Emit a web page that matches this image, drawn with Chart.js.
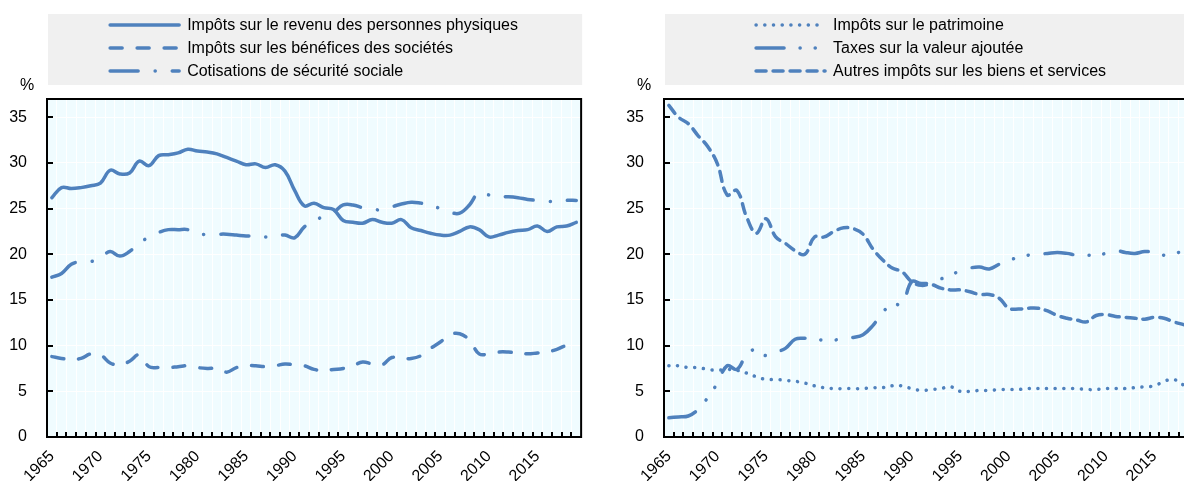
<!DOCTYPE html>
<html>
<head>
<meta charset="utf-8">
<script src="https://cdn.jsdelivr.net/npm/chart.js@4.4.0/dist/chart.umd.min.js"></script>
<style>
html, body { margin: 0; padding: 0; background: #fff; overflow: hidden; width: 1184px; height: 481px; }
.panel { position: absolute; top: 0; width: 600px; height: 481px; }
#p1 { left: 0; }
#p2 { left: 617px; }
</style>
</head>
<body>
<div class="panel" id="p1"><canvas id="c1" width="600" height="481"></canvas></div>
<div class="panel" id="p2"><canvas id="c2" width="600" height="481"></canvas></div>
<script>
var years = ["1965","1966","1967","1968","1969","1970","1971","1972","1973","1974",
             "1975","1976","1977","1978","1979","1980","1981","1982","1983","1984",
             "1985","1986","1987","1988","1989","1990","1991","1992","1993","1994",
             "1995","1996","1997","1998","1999","2000","2001","2002","2003","2004",
             "2005","2006","2007","2008","2009","2010","2011","2012","2013","2014",
             "2015","2016","2017","2018","2019"];

var yTicks = [0, 5, 10, 15, 20, 25, 30, 35];

// left panel
var revenu = [26.2,27.3,27.2,27.3,27.5,27.8,29.2,28.8,28.9,30.2,
              29.7,30.8,30.9,31.1,31.5,31.3,31.2,31.0,30.6,30.2,
              29.8,29.9,29.5,29.8,29.1,27.0,25.3,25.6,25.1,24.9,
              23.7,23.5,23.4,23.8,23.5,23.4,23.8,22.9,22.6,22.3,
              22.1,22.1,22.5,23.0,22.7,21.9,22.1,22.4,22.6,22.7,
              23.1,22.5,23.0,23.1,23.5];
var benefices = [8.8,8.6,8.5,8.6,9.1,9.0,8.1,7.9,8.3,9.0,
                 7.7,7.6,7.6,7.7,7.8,7.6,7.5,7.5,7.1,7.6,
                 7.8,7.8,7.7,7.8,8.0,7.9,7.8,7.4,7.3,7.4,
                 7.5,7.8,8.2,8.0,7.9,8.7,8.6,8.6,8.9,9.7,
                 10.4,11.2,11.3,10.6,9.1,9.1,9.3,9.3,9.2,9.1,
                 9.2,9.3,9.6,10.0,9.9];
var cotisations = [17.5,17.9,18.9,19.2,19.2,19.6,20.3,19.8,20.3,21.2,
                   21.9,22.4,22.7,22.7,22.7,22.2,22.2,22.2,22.2,22.1,
                   22.0,22.0,21.9,22.0,22.1,21.8,23.0,23.6,24.2,24.6,
                   25.4,25.4,25.1,24.9,24.9,25.2,25.5,25.7,25.6,25.4,
                   25.0,24.6,24.5,25.4,26.8,26.5,26.3,26.3,26.2,26.0,
                   25.9,25.8,25.8,25.9,25.9];

// right panel
var patrimoine = [7.8,7.8,7.6,7.6,7.4,7.3,7.4,7.3,7.0,6.6,
                  6.3,6.3,6.2,6.1,5.9,5.6,5.4,5.3,5.3,5.3,
                  5.3,5.4,5.4,5.6,5.6,5.3,5.1,5.2,5.3,5.5,
                  5.0,5.0,5.1,5.1,5.2,5.2,5.2,5.3,5.3,5.3,
                  5.3,5.3,5.3,5.2,5.2,5.3,5.3,5.3,5.4,5.5,
                  5.6,6.1,6.3,5.7,5.5];
var tva = [2.1,2.2,2.3,3.0,4.3,5.9,7.8,7.4,9.0,9.6,
           8.9,9.3,9.7,10.7,10.8,10.7,10.6,10.6,10.8,10.9,
           11.2,12.2,13.6,14.6,14.5,17.0,16.8,16.9,17.3,17.7,
           18.2,18.5,18.6,18.4,18.9,19.4,19.6,19.9,20.0,20.1,
           20.2,20.1,19.9,19.9,19.9,20.1,20.4,20.2,20.1,20.3,
           20.2,19.9,20.1,20.3,20.4];
var autres = [36.3,35.0,34.3,33.0,31.8,29.9,26.5,27.0,24.1,22.3,
              23.9,21.9,21.2,20.4,20.0,21.9,21.9,22.5,22.9,22.8,
              22.2,20.6,19.4,18.5,18.1,17.0,16.6,16.7,16.3,16.1,
              16.1,15.9,15.6,15.6,15.2,14.1,14.0,14.1,14.1,13.8,
              13.3,13.0,12.8,12.6,13.3,13.4,13.2,13.1,13.0,12.9,
              13.1,13.0,12.6,12.3,12.0];

var blue = "#4F81BD";
Chart.defaults.font.family = '"Liberation Sans", Arial, sans-serif';
Chart.defaults.font.size = 16;
Chart.defaults.color = "#000";

function line(label, data, dash) {
    return {
        label: label,
        data: data,
        borderColor: blue,
        borderWidth: 3.5,
        borderDash: dash,
        borderCapStyle: "round",
        borderJoinStyle: "round",
        pointRadius: 0,
        tension: 0.4,
        fill: false
    };
}

// background, frame, inner ticks, % and legend box
var decor = {
    id: "decor",
    beforeDraw: function(chart) {
        var a = chart.chartArea, ctx = chart.ctx;
        ctx.save();
        ctx.fillStyle = "#F0FCFF";
        ctx.fillRect(a.left, a.top, a.right - a.left, a.bottom - a.top);
        ctx.fillStyle = "#F0F0F0";
        ctx.fillRect(a.left + 1, 14, a.right - a.left, 71);
        ctx.restore();
    },
    afterDraw: function(chart) {
        var a = chart.chartArea, ctx = chart.ctx;
        var xs = chart.scales.x, ys = chart.scales.y;
        ctx.save();
        ctx.strokeStyle = "#000";
        ctx.lineWidth = 2;
        // x tick marks between categories
        ctx.beginPath();
        for (var i = 1; i < years.length; i++) {
            var x = Math.round((xs.getPixelForValue(i - 1) + xs.getPixelForValue(i)) / 2);
            ctx.moveTo(x, a.bottom);
            ctx.lineTo(x, a.bottom - 5);
        }
        yTicks.forEach(function(v) {
            if (v === 0) return;
            var y = Math.round(ys.getPixelForValue(v));
            ctx.moveTo(a.left, y);
            ctx.lineTo(a.left + 6, y);
        });
        ctx.stroke();
        ctx.strokeRect(a.left, a.top, a.right - a.left, a.bottom - a.top);

        ctx.fillStyle = "#000";
        ctx.font = '16px "Liberation Sans", Arial, sans-serif';
        ctx.textAlign = "center";
        ctx.textBaseline = "middle";
        ctx.fillText("%", a.left - 20, 86);

        // legend
        var sets = chart.data.datasets;
        var maxW = 0;
        sets.forEach(function(d) { maxW = Math.max(maxW, ctx.measureText(d.label).width); });
        var sampleW = 69, gap = 8;
        var x0 = (a.left + a.right) / 2 - (sampleW + gap + maxW) / 2;
        var rows = [25, 48, 71];
        ctx.textAlign = "left";
        sets.forEach(function(d, k) {
            var y = rows[k];
            ctx.save();
            ctx.strokeStyle = d.borderColor;
            ctx.lineWidth = d.borderWidth;
            ctx.lineCap = "round";
            ctx.setLineDash(d.borderDash);
            ctx.beginPath();
            ctx.moveTo(x0, y);
            ctx.lineTo(x0 + sampleW, y);
            ctx.stroke();
            ctx.restore();
            ctx.fillText(d.label, x0 + sampleW + gap, y + 1);
        });
        ctx.restore();
    }
};

function options() {
    return {
        responsive: false,
        animation: false,
        devicePixelRatio: 1,
        layout: { padding: { left: 0, right: 17, top: 99, bottom: 0 } },
        plugins: { legend: { display: false }, tooltip: { enabled: false } },
        scales: {
            x: {
                type: "category",
                offset: true,
                grid: { color: "#FFFFFF", lineWidth: 1, offset: true, drawTicks: false },
                border: { display: false },
                ticks: {
                    autoSkip: false,
                    minRotation: 45,
                    maxRotation: 45,
                    padding: 10,
                    callback: function(v) {
                        var lab = this.getLabelForValue(v);
                        return (parseInt(lab, 10) % 5 === 0) ? lab : "";
                    }
                },
                afterFit: function(s) { s.height = 44; }
            },
            y: {
                min: 0,
                max: 37,
                grid: { color: "#FFFFFF", lineWidth: 1, drawTicks: false },
                border: { display: false },
                ticks: { stepSize: 5, includeBounds: false, padding: 20 },
                afterFit: function(s) { s.width = 47; }
            }
        }
    };
}

new Chart(document.getElementById("c1"), {
    type: "line",
    data: {
        labels: years,
        datasets: [
            line("Impôts sur le revenu des personnes physiques", revenu, []),
            line("Impôts sur les bénéfices des sociétés", benefices, [12, 15]),
            line("Cotisations de sécurité sociale", cotisations, [28, 17, 0.1, 17])
        ]
    },
    options: options(),
    plugins: [decor]
});

new Chart(document.getElementById("c2"), {
    type: "line",
    data: {
        labels: years,
        datasets: [
            line("Impôts sur le patrimoine", patrimoine, [0.1, 8.6]),
            line("Taxes sur la valeur ajoutée", tva, [28, 16, 0.1, 15, 0.1, 17]),
            line("Autres impôts sur les biens et services", autres, [10, 7])
        ]
    },
    options: options(),
    plugins: [decor]
});
</script>
</body>
</html>
